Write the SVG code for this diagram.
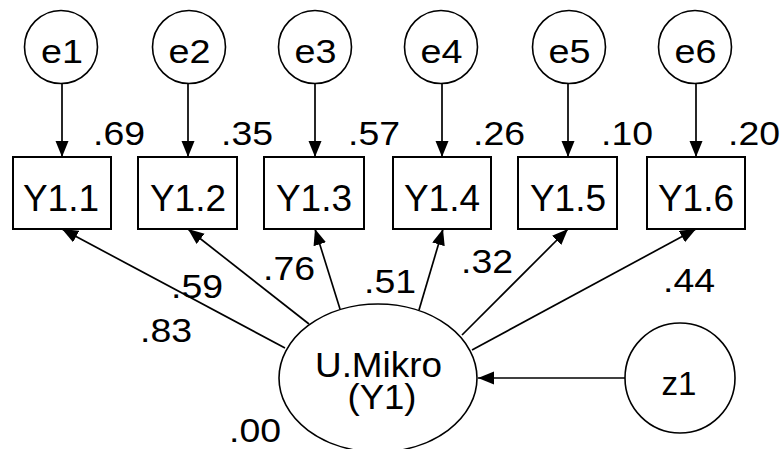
<svg xmlns="http://www.w3.org/2000/svg" width="783" height="449" viewBox="0 0 783 449">
<defs>
<marker id="ah" markerUnits="userSpaceOnUse" markerWidth="17" markerHeight="14" refX="16" refY="6.5" orient="auto">
<path d="M0,0 L16,6.5 L0,13 z" fill="#000"/>
</marker>
<style>
text{font-family:"Liberation Sans",Arial,sans-serif;font-size:33px;fill:#000}
.c{text-anchor:middle}
.e{font-size:33px}
.y{font-size:37px}
.u{font-size:35px}
.n{fill:#fff;stroke:#000;stroke-width:1.6}
.b{fill:#fff;stroke:#000;stroke-width:2}
.l{stroke:#000;stroke-width:1.7;fill:none;marker-end:url(#ah)}
</style>
</defs>
<rect width="783" height="449" fill="#fff"/>
<g id="connectors">
<line class="l" x1="62" y1="83.5" x2="62" y2="157"/>
<line class="l" x1="188" y1="83.5" x2="188" y2="157"/>
<line class="l" x1="315" y1="83.5" x2="315" y2="157"/>
<line class="l" x1="442" y1="83.5" x2="442" y2="157"/>
<line class="l" x1="568" y1="83.5" x2="568" y2="157"/>
<line class="l" x1="696" y1="83.5" x2="696" y2="157"/>
<line class="l" x1="285" y1="348" x2="62" y2="229"/>
<line class="l" x1="309" y1="324" x2="188" y2="229"/>
<line class="l" x1="340" y1="309" x2="315" y2="229"/>
<line class="l" x1="419" y1="310" x2="443" y2="229"/>
<line class="l" x1="462" y1="335" x2="568" y2="229"/>
<line class="l" x1="472" y1="350" x2="696" y2="229"/>
<line class="l" x1="625" y1="378" x2="478" y2="378"/>
</g>
<g id="e1"><circle class="n" cx="61" cy="47" r="36.5"/><text class="c e" x="62" y="63" textLength="42" lengthAdjust="spacingAndGlyphs">e1</text></g>
<g id="e2"><circle class="n" cx="189" cy="47" r="36.5"/><text class="c e" x="189.5" y="63" textLength="42" lengthAdjust="spacingAndGlyphs">e2</text></g>
<g id="e3"><circle class="n" cx="315" cy="47" r="36.5"/><text class="c e" x="315.5" y="63" textLength="42" lengthAdjust="spacingAndGlyphs">e3</text></g>
<g id="e4"><circle class="n" cx="441" cy="47" r="36.5"/><text class="c e" x="441.5" y="63" textLength="42" lengthAdjust="spacingAndGlyphs">e4</text></g>
<g id="e5"><circle class="n" cx="569" cy="47" r="36.5"/><text class="c e" x="569.5" y="63" textLength="42" lengthAdjust="spacingAndGlyphs">e5</text></g>
<g id="e6"><circle class="n" cx="695" cy="47" r="36.5"/><text class="c e" x="695.5" y="63" textLength="42" lengthAdjust="spacingAndGlyphs">e6</text></g>
<g id="Y1.1"><rect class="b" x="13" y="157" width="98" height="72"/><text class="c y" x="61" y="211">Y1.1</text></g>
<g id="Y1.2"><rect class="b" x="138" y="157" width="99" height="72"/><text class="c y" x="188" y="211">Y1.2</text></g>
<g id="Y1.3"><rect class="b" x="264" y="157" width="100" height="72"/><text class="c y" x="314" y="211">Y1.3</text></g>
<g id="Y1.4"><rect class="b" x="393" y="157" width="98" height="72"/><text class="c y" x="442" y="211">Y1.4</text></g>
<g id="Y1.5"><rect class="b" x="518" y="157" width="99" height="72"/><text class="c y" x="568" y="211">Y1.5</text></g>
<g id="Y1.6"><rect class="b" x="647" y="157" width="98" height="72"/><text class="c y" x="696" y="211">Y1.6</text></g>
<g id="UMikro"><ellipse class="n" cx="378" cy="378" rx="99" ry="74"/><text class="c u" x="378.5" y="376.5" textLength="127" lengthAdjust="spacingAndGlyphs">U.Mikro</text><text class="c u" x="382" y="409" textLength="69" lengthAdjust="spacingAndGlyphs">(Y1)</text></g>
<g id="z1"><circle class="n" cx="680" cy="378" r="55"/><text class="c e" x="679" y="395" textLength="35" lengthAdjust="spacingAndGlyphs">z1</text></g>
<g id="labels">
<text x="93" y="145" textLength="52" lengthAdjust="spacingAndGlyphs">.69</text>
<text x="221" y="145" textLength="52" lengthAdjust="spacingAndGlyphs">.35</text>
<text x="348" y="145" textLength="52" lengthAdjust="spacingAndGlyphs">.57</text>
<text x="473" y="145" textLength="52" lengthAdjust="spacingAndGlyphs">.26</text>
<text x="601" y="145" textLength="52" lengthAdjust="spacingAndGlyphs">.10</text>
<text x="728" y="145" textLength="52" lengthAdjust="spacingAndGlyphs">.20</text>
<text x="140" y="342" textLength="52" lengthAdjust="spacingAndGlyphs">.83</text>
<text x="171" y="298" textLength="52" lengthAdjust="spacingAndGlyphs">.59</text>
<text x="263" y="280" textLength="52" lengthAdjust="spacingAndGlyphs">.76</text>
<text x="364" y="293" textLength="52" lengthAdjust="spacingAndGlyphs">.51</text>
<text x="461" y="273" textLength="52" lengthAdjust="spacingAndGlyphs">.32</text>
<text x="663" y="292" textLength="52" lengthAdjust="spacingAndGlyphs">.44</text>
<text x="229" y="442" textLength="52" lengthAdjust="spacingAndGlyphs">.00</text>
</g>
</svg>
